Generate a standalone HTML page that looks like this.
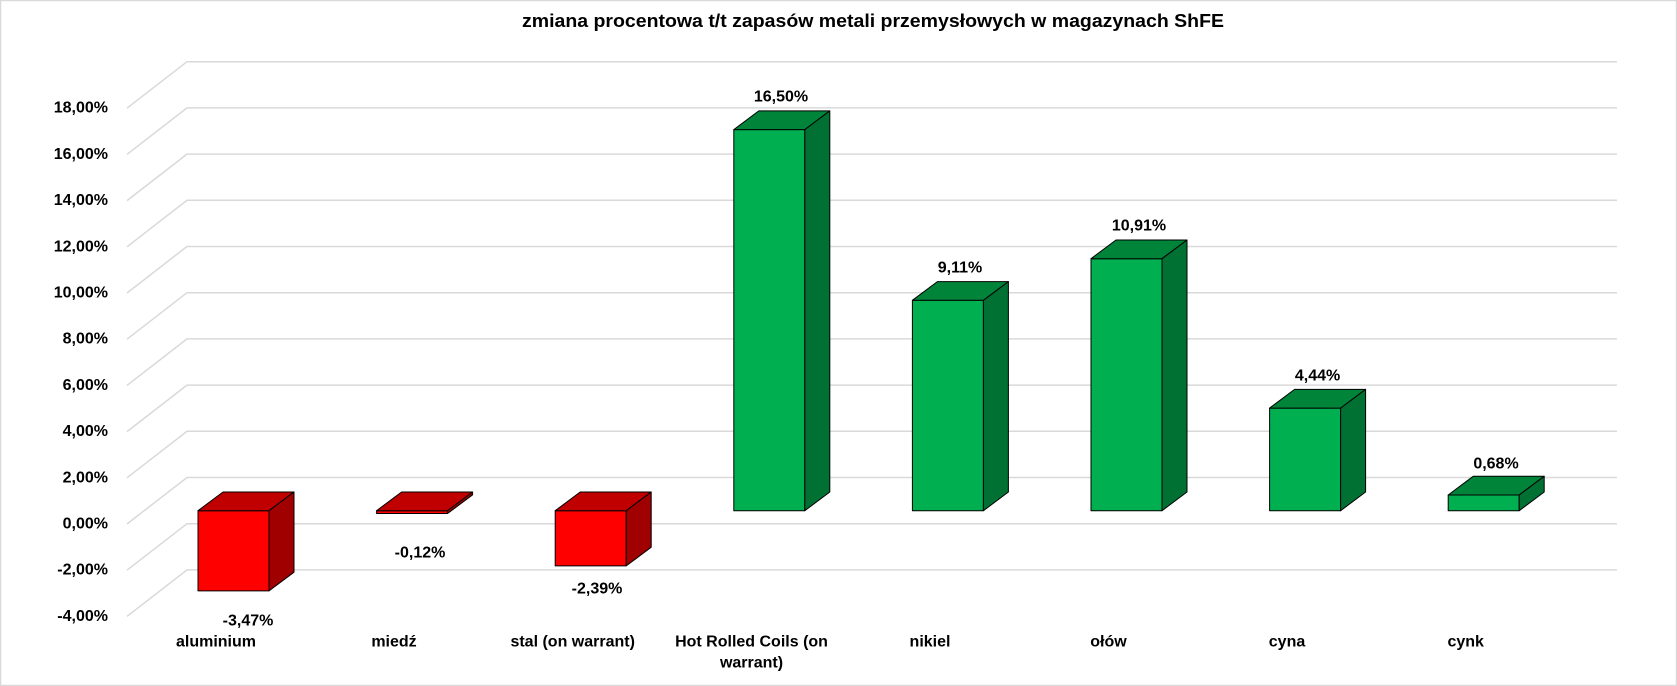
<!DOCTYPE html>
<html><head><meta charset="utf-8"><style>
html,body{margin:0;padding:0;background:#fff;}
svg{display:block;}
text{font-family:"Liberation Sans",sans-serif;font-weight:bold;fill:#000;}
</style></head><body>
<svg width="1677" height="686" viewBox="0 0 1677 686" xmlns="http://www.w3.org/2000/svg">
<rect x="0.5" y="0.5" width="1676" height="685" fill="#fff" stroke="#d9d9d9" stroke-width="1.5"/>
<text x="522" y="21" font-size="18" dominant-baseline="central" textLength="702" lengthAdjust="spacingAndGlyphs">zmiana procentowa t/t zapasów metali przemysłowych w magazynach ShFE</text>
<g stroke="#d9d9d9" stroke-width="1.5" fill="none">
<polyline points="127,108.2 187,61.7 1617,61.7"/>
<polyline points="127,154.4 187,107.9 1617,107.9"/>
<polyline points="127,200.6 187,154.1 1617,154.1"/>
<polyline points="127,246.8 187,200.3 1617,200.3"/>
<polyline points="127,293 187,246.5 1617,246.5"/>
<polyline points="127,339.2 187,292.7 1617,292.7"/>
<polyline points="127,385.4 187,338.9 1617,338.9"/>
<polyline points="127,431.6 187,385.1 1617,385.1"/>
<polyline points="127,477.8 187,431.3 1617,431.3"/>
<polyline points="127,524 187,477.5 1617,477.5"/>
<polyline points="127,570.2 187,523.7 1617,523.7"/>
<polyline points="127,616.4 187,569.9 1617,569.9"/>
</g>
<g font-size="16" text-anchor="end" dominant-baseline="central">
<text x="108" y="108.2">18,00%</text>
<text x="108" y="154.4">16,00%</text>
<text x="108" y="200.6">14,00%</text>
<text x="108" y="246.8">12,00%</text>
<text x="108" y="293">10,00%</text>
<text x="108" y="339.2">8,00%</text>
<text x="108" y="385.4">6,00%</text>
<text x="108" y="431.6">4,00%</text>
<text x="108" y="477.8">2,00%</text>
<text x="108" y="524">0,00%</text>
<text x="108" y="570.2">-2,00%</text>
<text x="108" y="616.4">-4,00%</text>
</g>
<g stroke="#000" stroke-width="1" stroke-linejoin="round">
<!-- red -->
<rect x="198" y="510.7" width="71" height="80.2" fill="#ff0000"/>
<polygon points="198,510.7 223,492 294,492 269,510.7" fill="#c00000"/>
<polygon points="269,510.7 294,492 294,572.2 269,590.9" fill="#a00000"/>
<rect x="376.6" y="510.7" width="71" height="2.8" fill="#ff0000"/>
<polygon points="376.6,510.7 401.6,492 472.6,492 447.6,510.7" fill="#c00000"/>
<polygon points="447.6,510.7 472.6,492 472.6,494.8 447.6,513.5" fill="#a00000"/>
<rect x="555.2" y="510.7" width="71" height="55.2" fill="#ff0000"/>
<polygon points="555.2,510.7 580.2,492 651.2,492 626.2,510.7" fill="#c00000"/>
<polygon points="626.2,510.7 651.2,492 651.2,547.2 626.2,565.9" fill="#a00000"/>
<!-- green -->
<rect x="733.8" y="129.6" width="71" height="381.1" fill="#00b050"/>
<polygon points="733.8,129.6 758.8,110.9 829.8,110.9 804.8,129.6" fill="#00843a"/>
<polygon points="804.8,129.6 829.8,110.9 829.8,492 804.8,510.7" fill="#007033"/>
<rect x="912.4" y="300.3" width="71" height="210.4" fill="#00b050"/>
<polygon points="912.4,300.3 937.4,281.6 1008.4,281.6 983.4,300.3" fill="#00843a"/>
<polygon points="983.4,300.3 1008.4,281.6 1008.4,492 983.4,510.7" fill="#007033"/>
<rect x="1091" y="258.7" width="71" height="252" fill="#00b050"/>
<polygon points="1091,258.7 1116,240 1187,240 1162,258.7" fill="#00843a"/>
<polygon points="1162,258.7 1187,240 1187,492 1162,510.7" fill="#007033"/>
<rect x="1269.6" y="408.1" width="71" height="102.6" fill="#00b050"/>
<polygon points="1269.6,408.1 1294.6,389.4 1365.6,389.4 1340.6,408.1" fill="#00843a"/>
<polygon points="1340.6,408.1 1365.6,389.4 1365.6,492 1340.6,510.7" fill="#007033"/>
<rect x="1448.2" y="495" width="71" height="15.7" fill="#00b050"/>
<polygon points="1448.2,495 1473.2,476.3 1544.2,476.3 1519.2,495" fill="#00843a"/>
<polygon points="1519.2,495 1544.2,476.3 1544.2,492 1519.2,510.7" fill="#007033"/>
</g>
<g font-size="16" text-anchor="middle" dominant-baseline="central">
<text x="248" y="621">-3,47%</text>
<text x="420" y="553">-0,12%</text>
<text x="597" y="589">-2,39%</text>
<text x="781" y="97">16,50%</text>
<text x="960" y="268">9,11%</text>
<text x="1139" y="226">10,91%</text>
<text x="1317.6" y="376">4,44%</text>
<text x="1496" y="464">0,68%</text>
</g>
<g font-size="16" text-anchor="middle" dominant-baseline="central">
<text x="216" y="642">aluminium</text>
<text x="394" y="642">miedź</text>
<text x="572.7" y="642">stal (on warrant)</text>
<text x="751.5" y="642">Hot Rolled Coils (on</text>
<text x="751.5" y="663">warrant)</text>
<text x="930" y="642">nikiel</text>
<text x="1108.5" y="642">ołów</text>
<text x="1287" y="642">cyna</text>
<text x="1465.7" y="642">cynk</text>
</g>
</svg>
</body></html>
